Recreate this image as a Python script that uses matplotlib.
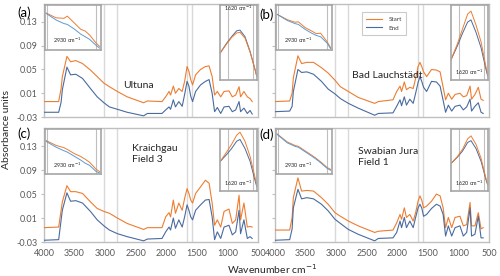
import matplotlib.pyplot as plt

plt.rcParams['font.family'] = ['Lato', 'DejaVu Sans']

# wavenumber grid (cm-1)
wavenumber = [4000, 3760, 3720, 3700, 3625, 3565, 3480, 3370, 3240, 3130, 3020, 2930,
              2800, 2640, 2370, 2310, 2070, 2010, 1955, 1930, 1885, 1850, 1795, 1740,
              1700, 1660, 1630, 1600, 1570, 1520, 1440, 1360, 1300, 1250, 1210, 1165,
              1110, 1055, 975, 920, 865, 810, 785, 730, 675, 630, 595]

start_a = [-0.004, -0.004, 0.018, 0.038, 0.072, 0.063, 0.065, 0.060, 0.049, 0.038, 0.027, 0.021,
           0.013, 0.004, -0.006, -0.003, -0.004, 0.004, 0.013, 0.007, 0.022, 0.010, 0.018, 0.013,
           0.030, 0.055, 0.047, 0.033, 0.024, 0.041, 0.050, 0.055, 0.056, 0.038, 0.007, 0.013,
           0.004, 0.013, 0.014, 0.004, 0.007, 0.021, 0.004, 0.013, 0.004, 0.001, -0.004]
end_a = [-0.022, -0.022, -0.005, 0.016, 0.054, 0.041, 0.042, 0.035, 0.018, 0.004, -0.006, -0.013,
         -0.017, -0.022, -0.028, -0.024, -0.024, -0.018, -0.013, -0.017, -0.001, -0.013, -0.004, -0.012,
         0.008, 0.030, 0.022, 0.005, -0.004, 0.013, 0.024, 0.030, 0.033, 0.010, -0.021, -0.014,
         -0.024, -0.013, -0.012, -0.021, -0.018, -0.004, -0.021, -0.015, -0.024, -0.019, -0.025]

start_b = [-0.004, -0.003, 0.010, 0.036, 0.073, 0.060, 0.062, 0.062, 0.053, 0.044, 0.032, 0.021,
           0.013, 0.003, -0.007, -0.004, -0.001, 0.013, 0.022, 0.013, 0.029, 0.016, 0.020, 0.018,
           0.035, 0.055, 0.062, 0.055, 0.046, 0.038, 0.050, 0.049, 0.046, 0.020, -0.001, 0.010,
           0.000, 0.008, 0.010, 0.004, 0.006, 0.022, 0.000, 0.008, 0.020, 0.000, -0.002]
end_b = [-0.021, -0.020, -0.012, 0.013, 0.050, 0.045, 0.046, 0.042, 0.030, 0.017, 0.009, 0.001,
         -0.007, -0.015, -0.027, -0.024, -0.023, -0.012, -0.001, -0.011, 0.004, -0.010, 0.000, -0.007,
         0.010, 0.028, 0.038, 0.030, 0.020, 0.013, 0.030, 0.029, 0.022, -0.002, -0.022, -0.010,
         -0.020, -0.012, -0.010, -0.018, -0.013, 0.000, -0.020, -0.012, -0.006, -0.022, -0.024]

start_c = [-0.006, -0.005, 0.023, 0.037, 0.064, 0.054, 0.054, 0.051, 0.037, 0.026, 0.021, 0.018,
           0.010, 0.001, -0.009, -0.006, -0.006, 0.012, 0.019, 0.012, 0.040, 0.018, 0.035, 0.023,
           0.043, 0.059, 0.051, 0.040, 0.035, 0.051, 0.062, 0.073, 0.068, 0.035, -0.002, 0.007,
           -0.005, 0.021, 0.025, 0.001, 0.007, 0.048, 0.007, 0.035, -0.005, -0.004, -0.005]
end_c = [-0.027, -0.026, 0.007, 0.023, 0.052, 0.038, 0.039, 0.035, 0.021, 0.007, -0.003, -0.010,
         -0.016, -0.021, -0.028, -0.025, -0.024, -0.013, -0.005, -0.010, 0.010, -0.007, 0.007, -0.005,
         0.012, 0.032, 0.023, 0.012, 0.007, 0.023, 0.032, 0.040, 0.041, 0.012, -0.026, -0.013,
         -0.024, -0.005, -0.002, -0.018, -0.013, 0.023, -0.016, 0.007, -0.024, -0.021, -0.024]

start_d = [-0.010, -0.010, 0.011, 0.044, 0.077, 0.055, 0.056, 0.055, 0.044, 0.033, 0.019, 0.013,
           0.005, -0.003, -0.014, -0.012, -0.010, 0.002, 0.016, 0.008, 0.027, 0.011, 0.016, 0.005,
           0.019, 0.038, 0.047, 0.040, 0.027, 0.030, 0.038, 0.050, 0.047, 0.027, -0.006, 0.011,
           -0.006, 0.011, 0.013, -0.003, -0.001, 0.036, -0.003, -0.003, 0.019, -0.008, -0.006]
end_d = [-0.027, -0.026, -0.008, 0.027, 0.058, 0.042, 0.044, 0.042, 0.033, 0.022, 0.008, 0.001,
         -0.009, -0.017, -0.028, -0.024, -0.023, -0.014, 0.005, -0.006, 0.011, -0.006, 0.005, -0.006,
         0.011, 0.027, 0.033, 0.027, 0.013, 0.016, 0.026, 0.033, 0.030, 0.016, -0.020, -0.003,
         -0.020, -0.006, -0.003, -0.020, -0.014, 0.027, -0.020, -0.017, 0.013, -0.023, -0.023]

# zoomed insets, values relative to inset height
ch_wn = [3025, 2980, 2945, 2930, 2900, 2870, 2850, 2830, 2800, 2785]
ch_start = {'a': [0.81, 0.70, 0.69, 0.74, 0.59, 0.44, 0.40, 0.31, 0.12, 0.05],
            'b': [0.78, 0.66, 0.60, 0.61, 0.48, 0.40, 0.34, 0.35, 0.15, 0.02],
            'c': [0.73, 0.62, 0.57, 0.53, 0.44, 0.37, 0.31, 0.24, 0.08, 0.03],
            'd': [0.88, 0.70, 0.62, 0.60, 0.50, 0.40, 0.33, 0.25, 0.12, 0.08]}
ch_end = {'a': [0.80, 0.65, 0.57, 0.55, 0.45, 0.33, 0.27, 0.21, 0.07, 0.01],
          'b': [0.78, 0.64, 0.57, 0.55, 0.44, 0.35, 0.30, 0.27, 0.12, 0.00],
          'c': [0.71, 0.58, 0.50, 0.47, 0.38, 0.29, 0.22, 0.17, 0.03, 0.00],
          'd': [0.87, 0.68, 0.60, 0.58, 0.48, 0.38, 0.31, 0.23, 0.10, 0.06]}

co_wn = [1680, 1660, 1645, 1630, 1620, 1605, 1590, 1575, 1570]
co_start = {'a': [0.34, 0.47, 0.56, 0.62, 0.63, 0.55, 0.36, 0.12, 0.03],
            'b': [0.25, 0.48, 0.68, 0.88, 0.92, 0.73, 0.50, 0.15, 0.05],
            'c': [0.46, 0.62, 0.75, 0.90, 0.95, 0.80, 0.55, 0.20, 0.08],
            'd': [0.43, 0.55, 0.67, 0.84, 0.89, 0.75, 0.52, 0.18, 0.08]}
co_end = {'a': [0.34, 0.48, 0.57, 0.65, 0.66, 0.57, 0.37, 0.12, 0.03],
          'b': [0.25, 0.45, 0.62, 0.77, 0.80, 0.63, 0.42, 0.12, 0.03],
          'c': [0.46, 0.58, 0.68, 0.80, 0.83, 0.68, 0.47, 0.15, 0.05],
          'd': [0.43, 0.54, 0.64, 0.78, 0.81, 0.68, 0.47, 0.16, 0.08]}

sites = {'a': 'Ultuna', 'b': 'Bad Lauchstädt', 'c': 'Kraichgau\nField 3', 'd': 'Swabian Jura\nField 1'}
marker_lines = [3020, 2800, 1660, 1580]
yticks = [-0.03, 0.01, 0.05, 0.09, 0.13]
xticks = [4000, 3500, 3000, 2500, 2000, 1500, 1000, 500]

ORANGE = '#ED7D31'
BLUE = '#4A6B9F'
BLUE_IN = '#5B9BD5'
VLINE = '#D9D9D9'
FRAME = '#BFBFBF'
TEXT = '#595959'

fig = plt.figure(figsize=(5, 2.76), dpi=100)

rects = {'a': [0.088, 0.576, 0.428, 0.409],
         'b': [0.550, 0.576, 0.428, 0.409],
         'c': [0.088, 0.123, 0.428, 0.413],
         'd': [0.550, 0.123, 0.428, 0.413]}
starts = {'a': start_a, 'b': start_b, 'c': start_c, 'd': start_d}
ends = {'a': end_a, 'b': end_b, 'c': end_c, 'd': end_d}
site_pos = {'a': (0.37, 0.28), 'b': (0.36, 0.37), 'c': (0.41, 0.77), 'd': (0.39, 0.75)}

axes = {}
for key in 'abcd':
    ax = fig.add_axes(rects[key])
    axes[key] = ax
    for x in marker_lines:
        ax.axvline(x, color=VLINE, lw=1.0, zorder=1)
    ax.plot(wavenumber, starts[key], color=ORANGE, lw=0.8, label='Start', zorder=3)
    ax.plot(wavenumber, ends[key], color=BLUE, lw=0.8, label='End', zorder=3)
    ax.set_xlim(4000, 500)
    ax.set_ylim(-0.03, 0.16)
    ax.set_yticks(yticks)
    ax.set_xticks(xticks)
    for s in ax.spines.values():
        s.set_color(FRAME)
        s.set_linewidth(1.0)
    ax.tick_params(axis='y', length=2.5, color=FRAME, labelsize=6.5, labelcolor=TEXT, pad=2)
    ax.tick_params(axis='x', length=0, labelsize=6.5, labelcolor=TEXT, pad=5)
    if key in 'ab':
        ax.set_xticklabels([])
    if key in 'bd':
        ax.set_yticklabels([])
    else:
        ax.set_yticklabels(['%.2f' % v for v in yticks])
    ax.text(site_pos[key][0], site_pos[key][1], sites[key], transform=ax.transAxes,
            fontsize=7.5, color='#262626', ha='left', va='center', linespacing=1.3)

    # 2930 inset
    ins = ax.inset_axes([0.005, 0.595, 0.26, 0.40])
    ins.axvline(3020, color=FRAME, lw=0.8)
    ins.axvline(2800, color=FRAME, lw=0.8)
    ins.plot(ch_wn, ch_start[key], color=ORANGE, lw=0.7)
    ins.plot(ch_wn, ch_end[key], color=BLUE_IN, lw=0.7)
    ins.set_xlim(3030, 2780)
    ins.set_ylim(-0.03, 1.0)
    ins.set_xticks([])
    ins.set_yticks([])
    for s in ins.spines.values():
        s.set_color('#A6A6A6')
        s.set_linewidth(1.2)
    ins.text(0.4, 0.1, '2930 cm$^{-1}$', transform=ins.transAxes, fontsize=4,
             color='#262626', ha='center', va='bottom')

    # 1620 inset
    if key in 'ab':
        ins2 = ax.inset_axes([0.822, 0.33, 0.172, 0.66])
    else:
        ins2 = ax.inset_axes([0.822, 0.45, 0.172, 0.54])
    ins2.axvline(1657, color=FRAME, lw=0.8)
    ins2.axvline(1580, color=FRAME, lw=0.8)
    ins2.plot(co_wn, co_end[key], color=BLUE, lw=0.7)
    ins2.plot(co_wn, co_start[key], color=ORANGE, lw=0.7)
    ins2.set_xlim(1680, 1570)
    ins2.set_ylim(-0.02, 1.0)
    ins2.set_xticks([])
    ins2.set_yticks([])
    for s in ins2.spines.values():
        s.set_color('#A6A6A6')
        s.set_linewidth(1.2)
    ty = 0.9 if key == 'a' else 0.04
    ins2.text(0.5, ty, '1620 cm$^{-1}$', transform=ins2.transAxes, fontsize=4,
              color='#262626', ha='center', va='bottom')

leg = axes['b'].legend(loc='upper left', bbox_to_anchor=(0.39, 0.955), fontsize=4.5,
                       frameon=True, fancybox=False, edgecolor=FRAME, handlelength=2.6,
                       borderpad=0.7, labelspacing=0.5, handletextpad=1.0)
leg.get_frame().set_linewidth(0.8)
for t in leg.get_texts():
    t.set_color('#404040')

for key, (x, y) in zip('abcd', [(0.034, 0.955), (0.518, 0.947), (0.034, 0.515), (0.518, 0.512)]):
    fig.text(x, y, '(%s)' % key, fontsize=9.5, color='black', ha='left', va='center')

fig.text(0.014, 0.53, 'Absorbance units', rotation=90, fontsize=7.5, color='#262626',
         ha='center', va='center')
fig.text(0.545, 0.025, 'Wavenumber cm$^{-1}$', fontsize=7.5, color='#262626',
         ha='center', va='center')

fig.savefig('out.png', dpi=100)
